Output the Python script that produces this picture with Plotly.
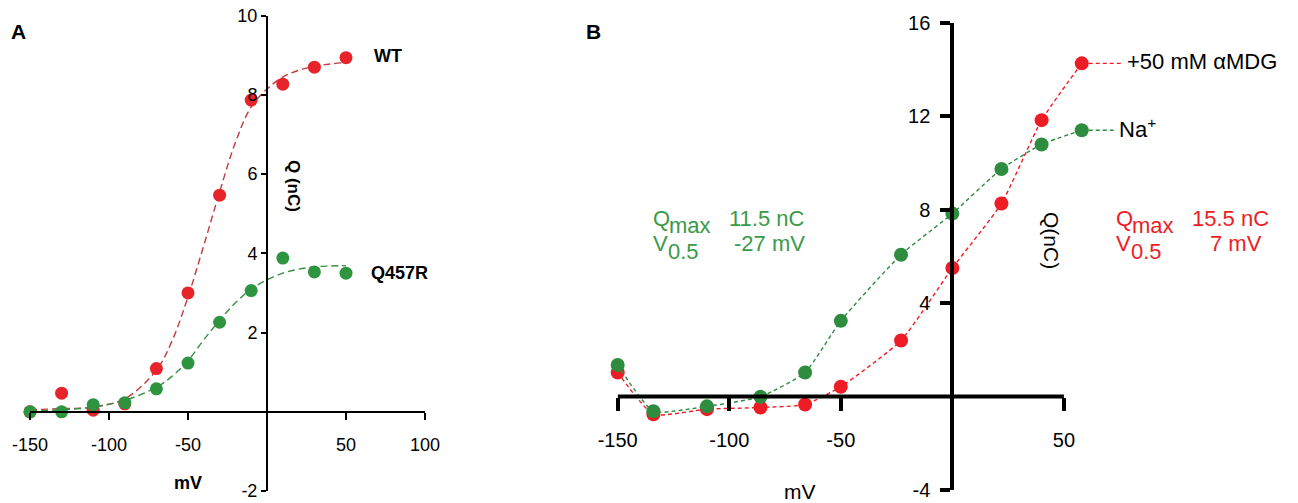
import plotly.graph_objects as go

W, H = 1298, 503

# ---------------- Panel A data (mV, nC) ----------------
va = [-150, -130, -110, -90, -70, -50, -30, -10, 10, 30, 50]
qa_wt = [0.0, 0.47, 0.04, 0.2, 1.09, 3.0, 5.47, 7.87, 8.27, 8.7, 8.94]
qa_q457r = [0.0, 0.0, 0.18, 0.23, 0.58, 1.23, 2.26, 3.06, 3.88, 3.53, 3.5]

# fitted (Boltzmann) curves
va_fit = [-150, -130, -110, -90, -70, -60, -50, -40, -30, -20, -10, 0, 10, 20, 30, 40, 50]
qa_wt_fit = [0.05, 0.08, 0.12, 0.33, 1.05, 1.8, 2.9, 4.2, 5.55, 6.8, 7.7, 8.15, 8.45, 8.62, 8.72, 8.78, 8.82]
qa_q457r_fit = [0.02, 0.05, 0.12, 0.29, 0.62, 0.9, 1.29, 1.82, 2.31, 2.75, 3.1, 3.33, 3.5, 3.6, 3.66, 3.68, 3.69]

xa_ticks = [-150, -100, -50, 50, 100]
ya_ticks = [-2, 2, 4, 6, 8, 10]

# ---------------- Panel B data (mV, nC) ----------------
vb = [-150, -134, -110, -86, -66, -50, -23, 0, 22, 40, 58]
qb_na = [1.35, -0.63, -0.42, -0.01, 1.03, 3.24, 6.07, 7.83, 9.74, 10.79, 11.4]
qb_mdg = [1.03, -0.76, -0.54, -0.47, -0.34, 0.42, 2.4, 5.5, 8.26, 11.83, 14.26]

xb_ticks = [-150, -100, -50, 50]
yb_ticks = [-4, 4, 8, 12, 16]

# ---------------- colours ----------------
RED_M = "#e8242b"
GRN_M = "#2e9440"
RED_L = "#c2393f"
GRN_L = "#3b8f45"
RED_B = "#ee1d25"
GRN_B = "#2e8c3f"
GRN_T = "#3a9a48"

FONT = "Liberation Sans, Arial, Helvetica, sans-serif"


def px(x):
    return x / W


def py(y):
    return 1 - y / H


def labels(vals):
    return [str(v) for v in vals]


# ---------------- geometry ----------------
xa_rng = [-150, 100]
ya_rng = [-2, 10]
xa_dom = [px(30), px(425)]
ya_dom = [py(491), py(15.7)]
xb_rng = [-150, 62]
yb_rng = [-4, 16]
xb_dom = [px(617.7), px(617.7 + 212 * 2.231)]
yb_dom = [py(490), py(22.7)]


def dfrac(v, rng, dom):
    return dom[0] + (v - rng[0]) / (rng[1] - rng[0]) * (dom[1] - dom[0])


fig = go.Figure()

# ---- Panel A traces ----
fig.add_trace(go.Scatter(x=va_fit, y=qa_wt_fit, mode="lines", line=dict(color=RED_L, width=1.4, dash="7px,4px", shape="spline"),
                         xaxis="x", yaxis="y", showlegend=False, hoverinfo="skip"))
fig.add_trace(go.Scatter(x=va_fit, y=qa_q457r_fit, mode="lines", line=dict(color=GRN_L, width=1.4, dash="7px,4px", shape="spline"),
                         xaxis="x", yaxis="y", showlegend=False, hoverinfo="skip"))
fig.add_trace(go.Scatter(x=va, y=qa_wt, mode="markers", marker=dict(color=RED_M, size=13),
                         xaxis="x", yaxis="y", cliponaxis=False, showlegend=False, name="WT"))
fig.add_trace(go.Scatter(x=va, y=qa_q457r, mode="markers", marker=dict(color=GRN_M, size=13),
                         xaxis="x", yaxis="y", cliponaxis=False, showlegend=False, name="Q457R"))

# ---- Panel B traces ----
fig.add_trace(go.Scatter(x=vb, y=qb_mdg, mode="lines+markers",
                         line=dict(color=RED_B, width=1.4, dash="4px,3px", shape="spline", smoothing=0.5),
                         marker=dict(color=RED_B, size=14),
                         xaxis="x2", yaxis="y2", cliponaxis=False, showlegend=False, name="+50 mM αMDG"))
fig.add_trace(go.Scatter(x=vb, y=qb_na, mode="lines+markers",
                         line=dict(color=GRN_B, width=1.4, dash="4px,3px", shape="spline", smoothing=0.5),
                         marker=dict(color=GRN_B, size=14),
                         xaxis="x2", yaxis="y2", cliponaxis=False, showlegend=False, name="Na+"))

axis_common = dict(showgrid=False, zeroline=False, ticks="outside", tickcolor="black",
                   linecolor="black", fixedrange=True, automargin=False)

fig.update_layout(
    width=W, height=H,
    margin=dict(l=0, r=0, t=0, b=0, pad=0),
    paper_bgcolor="white", plot_bgcolor="rgba(0,0,0,0)",
    font=dict(family=FONT, color="black"),
    xaxis=dict(domain=xa_dom, range=xa_rng, anchor="free",
               position=dfrac(0, ya_rng, ya_dom),
               tickvals=xa_ticks, ticktext=labels(xa_ticks), showline=True, linewidth=2, ticklen=7, tickwidth=2,
               tickfont=dict(size=18, family=FONT), ticklabelstandoff=10, **axis_common),
    yaxis=dict(domain=ya_dom, range=ya_rng, anchor="free",
               position=dfrac(0, xa_rng, xa_dom),
               tickvals=ya_ticks, ticktext=labels(ya_ticks), showline=True, linewidth=2, ticklen=5, tickwidth=2,
               tickfont=dict(size=18, family=FONT), ticklabelstandoff=0, **axis_common),
    xaxis2=dict(domain=xb_dom, range=xb_rng, anchor="free",
                position=dfrac(0, yb_rng, yb_dom),
                tickvals=xb_ticks, ticktext=labels(xb_ticks), showline=False, ticklen=13, tickwidth=4,
                tickfont=dict(size=20, family=FONT), ticklabelstandoff=12, **axis_common),
    yaxis2=dict(domain=yb_dom, range=yb_rng, anchor="free",
                position=dfrac(0, xb_rng, xb_dom),
                tickvals=yb_ticks, ticktext=labels(yb_ticks), showline=True, linewidth=4, ticklen=10, tickwidth=4,
                tickfont=dict(size=20, family=FONT), ticklabelstandoff=6, **axis_common),
)

# B x-axis line from -150 to 50 at Q = 0
fig.add_shape(type="line", xref="x2", yref="y2", x0=xb_ticks[0], x1=xb_ticks[-1], y0=0, y1=0,
              line=dict(color="black", width=4), layer="above")

# B leader lines from last point to the series labels
for q, lab_x, col in [(qb_mdg[-1], 1122, RED_B), (qb_na[-1], 1115, GRN_B)]:
    yy = dfrac(q, yb_rng, yb_dom)
    fig.add_shape(type="line", xref="paper", yref="paper",
                  x0=dfrac(vb[-1], xb_rng, xb_dom), x1=px(lab_x), y0=yy, y1=yy,
                  line=dict(color=col, width=1.4, dash="4px,3px"), layer="below")

ann = []


def text(t, x, y, size, color="black", bold=False, xanchor="left", angle=0):
    if bold:
        t = "<b>" + t + "</b>"
    ann.append(dict(text=t, x=px(x), y=py(y), xref="paper", yref="paper", showarrow=False,
                    xanchor=xanchor, yanchor="middle", textangle=angle,
                    font=dict(size=size, color=color, family=FONT)))


# Panel A labels
text("A", 9, 31, 21, bold=True)
text("WT", 372, 56, 18, bold=True)
text("Q457R", 369, 273, 18, bold=True)
text("Q (nC)", 294, 186, 17, bold=True, xanchor="center", angle=90)
text("mV", 188, 483, 18, bold=True, xanchor="center")

# Panel B labels
text("B", 584, 31, 21, bold=True)
text("+50 mM αMDG", 1125, 61, 22)
text("Na<sup>+</sup>", 1117, 128, 22)
text("Q(nC)", 1052, 240, 21, xanchor="center", angle=90)
text("mV", 800, 491, 21, xanchor="center")

for x0, col, qv, vv, qx, vx in [(651, GRN_T, "11.5 nC", "-27 mV", 727, 732),
                                (1114, RED_B, "15.5 nC", "7 mV", 1190, 1208)]:
    text("Q", x0, 218, 22, color=col)
    text("max", x0 + 16, 226, 22, color=col)
    text(qv, qx, 218, 22, color=col)
    text("V", x0, 243, 22, color=col)
    text("0.5", x0 + 15, 252, 22, color=col)
    text(vv, vx, 243, 22, color=col)

fig.update_layout(annotations=ann)

fig.write_html("out.html", config={"displayModeBar": False},
               post_script="document.body.style.margin='0';document.body.style.overflow='hidden';")
